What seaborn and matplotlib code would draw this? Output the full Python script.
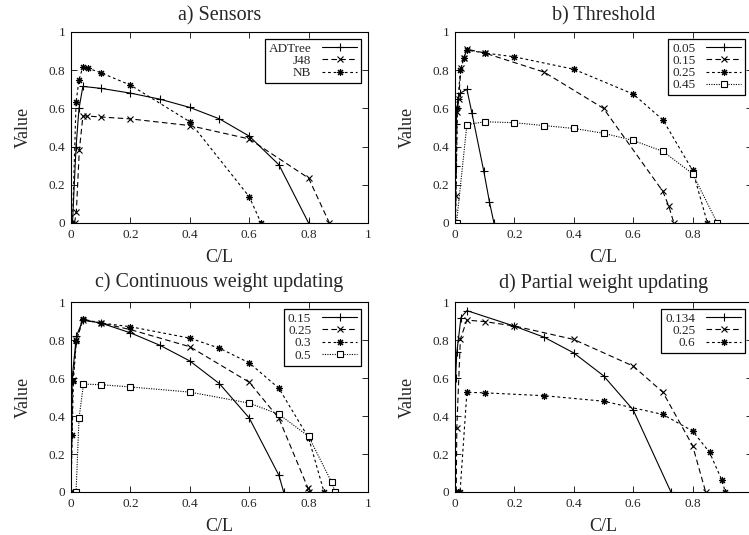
import matplotlib
matplotlib.use("Agg")
import matplotlib.pyplot as plt
import seaborn as sns

sns.set_style("ticks")
plt.rcParams["font.family"] = ["Liberation Serif", "DejaVu Serif"]

# a) Sensors
a_labels = ["ADTree", "J48", "NB"]
a_x = [
    [0.005, 0.017, 0.027, 0.04, 0.1, 0.2, 0.3, 0.4, 0.5, 0.6, 0.7, 0.8],
    [0.012, 0.018, 0.028, 0.04, 0.055, 0.1, 0.2, 0.4, 0.6, 0.8, 0.87],
    [0.005, 0.017, 0.027, 0.04, 0.058, 0.1, 0.2, 0.4, 0.6, 0.64],
]
a_y = [
    [0, 0.40, 0.60, 0.715, 0.705, 0.68, 0.648, 0.605, 0.545, 0.455, 0.305, 0],
    [0, 0.06, 0.38, 0.56, 0.56, 0.555, 0.545, 0.51, 0.44, 0.235, 0],
    [0, 0.632, 0.75, 0.817, 0.81, 0.787, 0.722, 0.53, 0.138, 0],
]

# b) Threshold
b_labels = ["0.05", "0.15", "0.25", "0.45"]
b_x = [
    [0, 0.002, 0.004, 0.007, 0.01, 0.018, 0.04, 0.057, 0.097, 0.116, 0.131],
    [0, 0.003, 0.007, 0.012, 0.02, 0.03, 0.04, 0.1, 0.3, 0.5, 0.7, 0.72, 0.737],
    [0.002, 0.008, 0.018, 0.03, 0.04, 0.1, 0.2, 0.4, 0.6, 0.7, 0.8, 0.85],
    [0.005, 0.04, 0.1, 0.2, 0.3, 0.4, 0.5, 0.6, 0.7, 0.8, 0.883],
]
b_y = [
    [0, 0.3, 0.52, 0.6, 0.65, 0.68, 0.70, 0.575, 0.27, 0.11, 0],
    [0, 0.14, 0.58, 0.65, 0.81, 0.865, 0.91, 0.89, 0.79, 0.60, 0.165, 0.087, 0],
    [0, 0.6, 0.80, 0.865, 0.905, 0.89, 0.87, 0.805, 0.675, 0.54, 0.275, 0],
    [0, 0.515, 0.53, 0.525, 0.51, 0.495, 0.47, 0.432, 0.375, 0.258, 0],
]

# c) Continuous weight updating
c_labels = ["0.15", "0.25", "0.3", "0.5"]
c_x = [
    [0, 0.004, 0.018, 0.04, 0.1, 0.2, 0.3, 0.4, 0.5, 0.6, 0.7, 0.716],
    [0, 0.006, 0.018, 0.04, 0.1, 0.2, 0.4, 0.6, 0.7, 0.798, 0.8],
    [0, 0.004, 0.008, 0.018, 0.04, 0.1, 0.2, 0.4, 0.5, 0.6, 0.7, 0.8, 0.852],
    [0.017, 0.027, 0.042, 0.1, 0.2, 0.4, 0.6, 0.7, 0.8, 0.878, 0.889],
]
c_y = [
    [0, 0.6, 0.82, 0.905, 0.89, 0.838, 0.772, 0.69, 0.57, 0.39, 0.088, 0],
    [0, 0.59, 0.80, 0.905, 0.89, 0.855, 0.765, 0.578, 0.388, 0.02, 0],
    [0, 0.30, 0.585, 0.795, 0.91, 0.89, 0.87, 0.81, 0.757, 0.68, 0.546, 0.285, 0],
    [0, 0.388, 0.568, 0.565, 0.553, 0.526, 0.468, 0.409, 0.293, 0.05, 0],
]

# d) Partial weight updating
d_labels = ["0.134", "0.25", "0.6"]
d_x = [
    [0, 0.002, 0.006, 0.02, 0.04, 0.2, 0.3, 0.4, 0.5, 0.6, 0.727],
    [0.004, 0.006, 0.018, 0.04, 0.1, 0.2, 0.4, 0.6, 0.7, 0.8, 0.844],
    [0.004, 0.01, 0.017, 0.04, 0.1, 0.3, 0.5, 0.7, 0.8, 0.857, 0.899, 0.91],
]
d_y = [
    [0, 0.6, 0.735, 0.918, 0.955, 0.873, 0.815, 0.732, 0.612, 0.432, 0],
    [0, 0.335, 0.805, 0.905, 0.897, 0.874, 0.803, 0.663, 0.525, 0.244, 0],
    [0, 0, 0, 0.525, 0.522, 0.507, 0.478, 0.408, 0.321, 0.209, 0.061, 0],
]

ticks = [0, 0.2, 0.4, 0.6, 0.8, 1]
tick_labels = ["0", "0.2", "0.4", "0.6", "0.8", "1"]

# gnuplot-ish line types: solid/+, dashed/x, short dash/asterisk, dotted/open square
styles = [
    dict(linestyle="-", marker="+", markersize=6),
    dict(linestyle=(0, (5, 3)), marker="x", markersize=4.5),
    dict(linestyle=(0, (2.5, 2.5)), marker=(8, 2, 0), markersize=5),
    dict(linestyle=(0, (1, 1.2)), marker="s", markersize=5, markerfacecolor="white"),
]


def draw_panel(ax, title, labels, xs, ys, pad, clipped=False):
    for i, (lab, x, y) in enumerate(zip(labels, xs, ys)):
        sns.lineplot(x=x, y=y, ax=ax, sort=False, estimator=None, color="black",
                     linewidth=0.8, markeredgewidth=0.8, markeredgecolor="black",
                     label=lab, **styles[i])
    ax.set_xlim(0, 1)
    ax.set_ylim(0, 1)
    ax.set_xticks(ticks)
    # right panels run past the page edge, so their "1" is not visible
    ax.set_xticklabels(tick_labels[:-1] + [""] if clipped else tick_labels)
    ax.set_yticks(ticks)
    ax.set_yticklabels(tick_labels)
    ax.tick_params(direction="in", length=4, width=0.7, top=True, right=True,
                   labelsize=9.5, pad=4)
    for sp in ax.spines.values():
        sp.set_linewidth(0.8)
        sp.set_color("black")
    ax.set_xlabel("C/L", fontsize=13, labelpad=6)
    ax.set_ylabel("Value", fontsize=13, labelpad=12)
    ax.set_title(title, fontsize=14.5, pad=pad)
    leg = ax.legend(loc="upper right", markerfirst=False, fontsize=9.5,
                    handlelength=2.7, handletextpad=0.8, labelspacing=0.0,
                    borderpad=0.3, borderaxespad=0.5, fancybox=False,
                    framealpha=1)
    leg.get_frame().set_edgecolor("black")
    leg.get_frame().set_linewidth(0.9)


fig = plt.figure(figsize=(7.49, 5.35), dpi=100)
ax_a = fig.add_axes([0.0948, 0.5832, 0.3965, 0.357])
ax_b = fig.add_axes([0.6075, 0.5832, 0.3965, 0.357])
ax_c = fig.add_axes([0.0948, 0.0804, 0.3965, 0.355])
ax_d = fig.add_axes([0.6075, 0.0804, 0.3965, 0.355])

draw_panel(ax_a, "a) Sensors", a_labels, a_x, a_y, 8)
draw_panel(ax_b, "b) Threshold", b_labels, b_x, b_y, 8, clipped=True)
draw_panel(ax_c, "c) Continuous weight updating", c_labels, c_x, c_y, 11)
draw_panel(ax_d, "d) Partial weight updating", d_labels, d_x, d_y, 10, clipped=True)

fig.savefig("out.png", dpi=100)
